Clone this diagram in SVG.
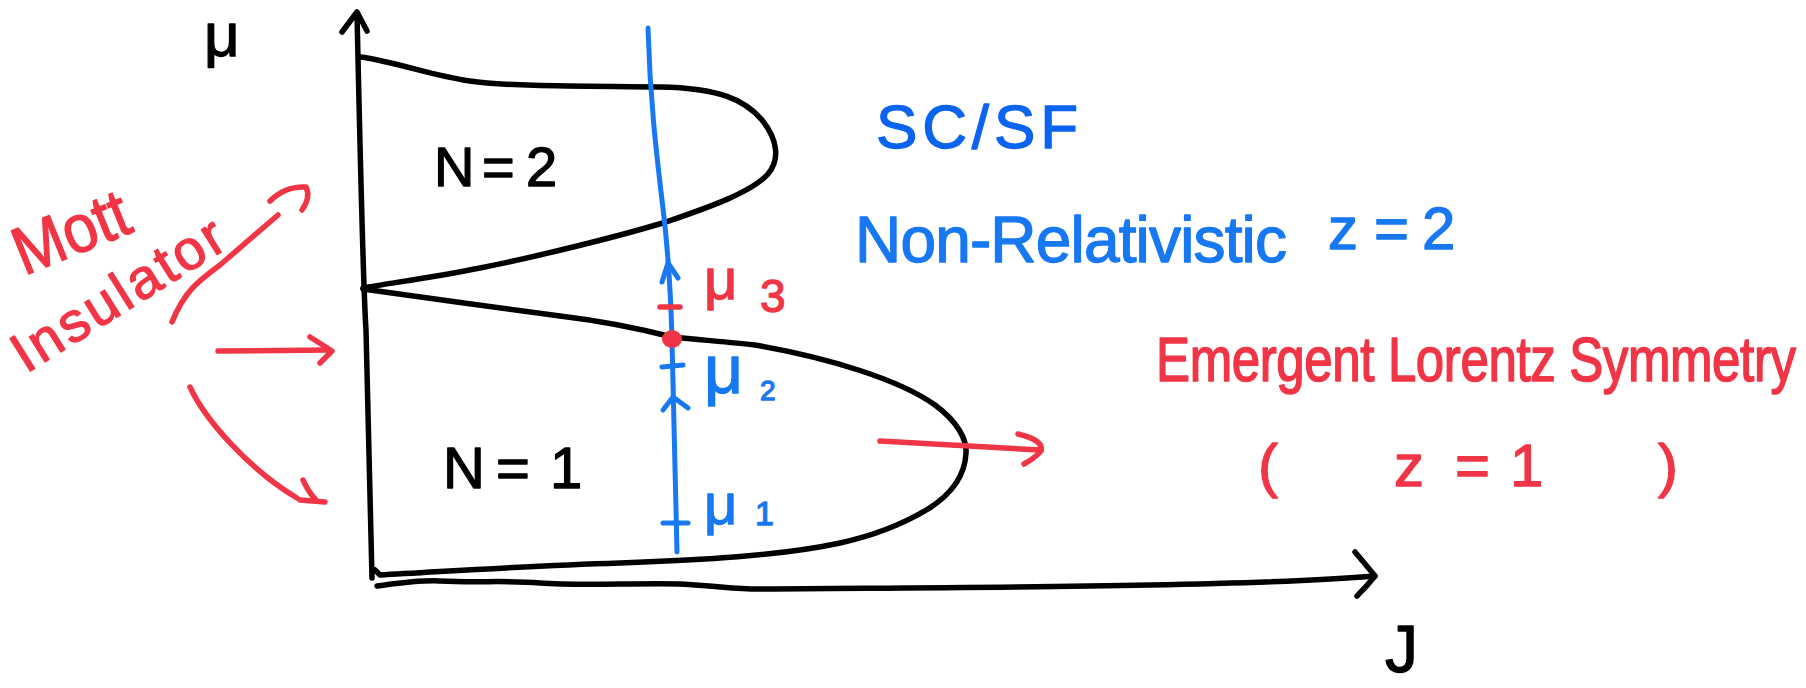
<svg xmlns="http://www.w3.org/2000/svg" width="1806" height="688" viewBox="0 0 1806 688">
<style>
.k{fill:none;stroke:#000;stroke-width:5.5;stroke-linecap:round;stroke-linejoin:round}
.b{fill:none;stroke:#1778f2;stroke-width:5;stroke-linecap:round;stroke-linejoin:round}
.r{fill:none;stroke:#f03546;stroke-width:5.5;stroke-linecap:round;stroke-linejoin:round}
text{font-family:"Liberation Sans",Arial,sans-serif;stroke-width:1.3;stroke-linejoin:round}
.tk{fill:#000;stroke:#000}
.tb{fill:#1778f2;stroke:#1778f2}
.tsc{fill:#0a64f0;stroke:#0a64f0}
.tr{fill:#f03546;stroke:#f03546}
</style>
<rect width="1806" height="688" fill="#fff"/>
<g id="axes">
<path class="k" d="M357,13 C360,150 364,300 366,330 C369,450 371,520 372,578"/>
<path class="k" d="M342,32 L357,12 L367,31"/>
<path class="k" d="M377,586 C400,583 420,580 440,581 C480,583 505,580 540,583 C580,586 630,583 680,584 C720,586 740,590 765,589 C850,588 1000,588 1150,585 C1250,583 1330,580 1375,576"/>
<path class="k" d="M1355,552 Q1366,565 1375,576 Q1367,586 1357,596"/>
<text class="tk" x="204" y="56" font-size="62">μ</text>
<text class="tk" x="1385" y="672" font-size="66">J</text>
</g>
<g id="node-n2">
<path class="k" d="M361,57 C400,63 430,75 470,81 C510,87 600,86 660,87 C720,88 745,100 762,120 C778,140 780,160 768,174 C752,192 710,207 666,222 C620,236 540,256 480,268 C430,278 390,283 363,288"/>
<text class="tk" font-size="56" y="186" x="434 472 482 514 526">N = 2</text>
</g>
<g id="node-n1">
<path class="k" d="M363,289 C420,297 500,308 560,316 C610,322 645,330 672,337 C700,340 730,342 755,345 C830,358 900,380 935,405 C958,422 967,440 966,453 C965,475 952,494 928,509 C900,526 872,536 840,543 C780,556 700,560 620,563 C520,566 440,572 380,575 L375,570"/>
<text class="tk" font-size="58" y="488" x="443 483 496 525 550">N = 1</text>
</g>
<g id="node-path">
<path class="b" d="M648,28 C650,100 656,150 664,217 C669,262 671,300 672,340 C674,420 676,500 677,552"/>
<path class="b" d="M662,282 L668,263 L678,278"/>
<path class="b" d="M663,410 L673,397 L688,408"/>
<path class="b" d="M662,367 L683,365"/>
<path class="b" d="M663,523 L688,523"/>
<path class="r" stroke-width="6" d="M660,307 L680,307"/>
<ellipse cx="672" cy="339" rx="10" ry="9" fill="#f03546"/>
<text class="tr" x="704" y="299" font-size="58">μ<tspan x="760" y="312" font-size="46">3</tspan></text>
<text class="tb" x="704" y="393" font-size="68">μ<tspan x="760" y="400" font-size="28">2</tspan></text>
<text class="tb" x="704" y="524" font-size="58">μ<tspan x="755" y="525" font-size="34">1</tspan></text>
</g>
<g id="node-mott">
<text class="tr" font-size="68" transform="translate(24,276) rotate(-22)" textLength="120" lengthAdjust="spacingAndGlyphs">Mott</text>
<text class="tr" font-size="56" transform="translate(26,374) rotate(-32)" textLength="240">Insulator</text>
</g>
<g id="node-scsf">
<text class="tsc" x="876" y="148" font-size="62" textLength="202">SC/SF</text>
<text class="tb" y="262" font-size="64"><tspan x="855" textLength="432">Non-Relativistic</tspan><tspan y="249" font-size="60" x="1312 1328 1374 1422"> z=2</tspan></text>
</g>
<g id="node-lorentz">
<text class="tr" font-size="51" transform="translate(1156,381) scale(1,1.25)" textLength="640">Emergent Lorentz Symmetry</text>
<text class="tr" y="486" font-size="60" x="1258 1285 1394 1425 1455 1490 1510 1560 1658">( z = 1 )</text>
</g>
<g id="connectors">
<path class="r" d="M172,322 C185,290 200,280 220,265 L278,215"/>
<path class="r" d="M270,201 Q285,186 306,187 Q311,197 302,210"/>
<path class="r" d="M218,351 L328,350"/>
<path class="r" d="M310,337 L332,351 L320,363"/>
<path class="r" d="M190,387 C205,420 250,470 297,498"/>
<path class="r" d="M303,480 Q309,493 316,500 M300,500 L325,502"/>
<path class="r" stroke-width="7" d="M880,441 L1040,450"/>
<path class="r" d="M1018,434 Q1044,440 1041,451 Q1035,458 1024,464"/>
</g>
</svg>
